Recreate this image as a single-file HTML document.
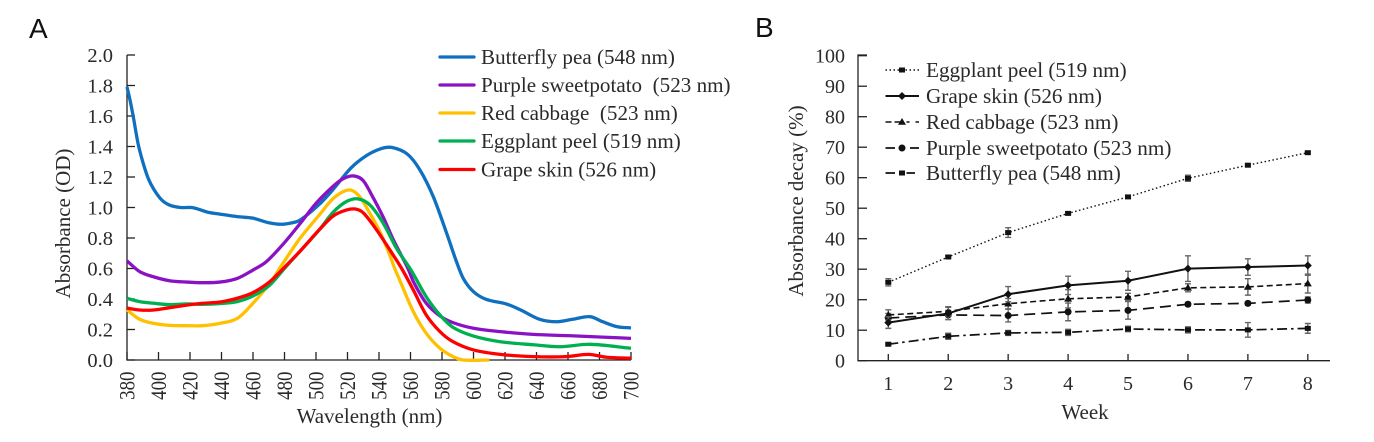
<!DOCTYPE html>
<html lang="en">
<head>
<meta charset="utf-8">
<title>Absorbance spectra and decay</title>
<style>
html,body{margin:0;padding:0;background:#fff;width:1374px;height:442px;overflow:hidden}
svg{display:block;font-family:"Liberation Serif",serif;fill:#222}
text{fill:#2a2a2a}
.panel{font-family:"Liberation Sans",sans-serif;font-size:28px;fill:#111}
</style>
</head>
<body>
<svg id="chart" width="1374" height="442" viewBox="0 0 1374 442" xmlns="http://www.w3.org/2000/svg">
<text class="panel" x="29" y="38">A</text>
<text class="panel" x="755" y="37">B</text>
<text x="0" y="0" font-size="21" text-anchor="middle" transform="translate(70,223.5) rotate(-90)">Absorbance (OD)</text>
<text x="369.5" y="423" font-size="21" text-anchor="middle">Wavelength (nm)</text>
<text x="0" y="0" font-size="21" text-anchor="middle" transform="translate(803,201) rotate(-90)">Absorbance decay (%)</text>
<text x="1085" y="419" font-size="21" text-anchor="middle">Week</text>
<g id="layer-a"></g>
<g id="layer-b"></g>
</svg>
<script>
// Panel A data
const aTicksY = ["0.0","0.2","0.4","0.6","0.8","1.0","1.2","1.4","1.6","1.8","2.0"];
const aTicksX = [380,400,420,440,460,480,500,520,540,560,580,600,620,640,660,680,700];
const butterflyNm = [380,382,384,387,390,393.5,397,402,407,414,421,425,431,440,450,460,470,478,485,490,502,511,522,532,541,548,558,566,574.5,583,589,593.5,600,608,621,630,642,653,663,674,682,691,700];
const butterflyOd = [1.79,1.70,1.595,1.42,1.30,1.19,1.12,1.05,1.016,1.0,1.0,0.99,0.97,0.955,0.94,0.93,0.90,0.89,0.90,0.918,1.02,1.12,1.257,1.34,1.385,1.394,1.35,1.246,1.07,0.83,0.65,0.535,0.448,0.398,0.367,0.328,0.267,0.251,0.267,0.284,0.251,0.219,0.21];
const purpleNm = [380,388,397,407,418,428,439,450,460,468.5,480,490,500,511,517.5,524,530,536.5,543,549,558.4,562,570,578.7,587,600,617,638,659,680,700];
const purpleOd = [0.65,0.58,0.545,0.52,0.511,0.507,0.511,0.535,0.59,0.645,0.77,0.896,1.027,1.14,1.19,1.207,1.176,1.06,0.93,0.79,0.60,0.51,0.372,0.289,0.245,0.208,0.186,0.168,0.16,0.151,0.142];
const cabbageNm = [380,388,397,407,418,428,439,450,460,470.7,479,490,502,511,520.5,527,534.3,540.6,546,550,553.3,561.8,570,578.7,587,593.5,610];
const cabbageOd = [0.328,0.267,0.24,0.227,0.225,0.225,0.24,0.273,0.372,0.503,0.634,0.80,0.95,1.06,1.115,1.08,0.96,0.84,0.71,0.60,0.52,0.317,0.175,0.077,0.022,0,0];
const eggplantNm = [380,388,397,407,418,428,439,450,460,470.7,480,490,502,511,519.5,527,534.3,542.7,551,560.3,570,578.7,587,600,617,638,655,674,700];
const eggplantOd = [0.404,0.383,0.372,0.363,0.368,0.365,0.37,0.383,0.42,0.492,0.601,0.715,0.853,0.97,1.04,1.056,1.016,0.897,0.734,0.59,0.415,0.295,0.214,0.157,0.12,0.10,0.087,0.103,0.077];
const grapeNm = [380,388,397,407,418,428,439,450,460,470.7,480,490,502,511,519.5,525,530,538.5,547,554.4,561.8,570,578.7,587,600,617,638,659,673,684.5,700];
const grapeOd = [0.34,0.328,0.328,0.343,0.36,0.372,0.38,0.405,0.442,0.514,0.608,0.715,0.853,0.945,0.984,0.99,0.965,0.853,0.72,0.60,0.459,0.295,0.186,0.12,0.066,0.037,0.022,0.022,0.037,0.018,0.012];

// Panel B data
const bWeeks = [1,2,3,4,5,6,7,8];
const bTicksY = [0,10,20,30,40,50,60,70,80,90,100];
const eggplantDecay = [25.7,34,42,48.3,53.7,59.8,64.1,68.2];
const eggplantErr = [1.2,0.4,1.6,0.4,0.4,1,0.4,0.4];
const grapeDecay = [12.5,15.5,21.8,24.7,26.2,30.2,30.7,31.2];
const grapeErr = [1.9,2,2.5,3,3.1,4.2,2.7,3.2];
const cabbageDecay = [15,16.2,18.7,20.3,20.9,23.9,24.2,25.3];
const cabbageErr = [1.7,1.5,1.7,3,1.2,1.3,2.7,3.1];
const purpleDecay = [14,15,14.8,16,16.5,18.5,18.8,19.9];
const purpleErr = [1.5,1.5,2.1,2.9,2.9,0.6,0.6,1];
const butterflyDecay = [5.4,8,9.1,9.3,10.4,10.1,10.1,10.6];
const butterflyErr = [0.4,1,0.8,1,0.9,1,2.4,1.6];

const NS = "http://www.w3.org/2000/svg";
function mk(parent, tag, attrs, txt) {
  const el = document.createElementNS(NS, tag);
  for (const k in attrs) el.setAttribute(k, attrs[k]);
  if (txt !== undefined) el.textContent = txt;
  parent.appendChild(el);
  return el;
}
function smooth(pts) {
  const n = pts.length;
  const slope = i => {
    const a = pts[Math.max(i - 1, 0)], b = pts[Math.min(i + 1, n - 1)];
    return (b[1] - a[1]) / (b[0] - a[0]);
  };
  let d = "M" + pts[0][0].toFixed(2) + " " + pts[0][1].toFixed(2);
  for (let i = 0; i < n - 1; i++) {
    const p1 = pts[i], p2 = pts[i + 1], h = (p2[0] - p1[0]) / 3;
    d += "C" + (p1[0] + h).toFixed(2) + " " + (p1[1] + slope(i) * h).toFixed(2) + " " + (p2[0] - h).toFixed(2) + " " + (p2[1] - slope(i + 1) * h).toFixed(2) + " " + p2[0].toFixed(2) + " " + p2[1].toFixed(2);
  }
  return d;
}

// ---- Panel A ----
const A = document.getElementById("layer-a");
const ax = nm => 127 + (nm - 380) * 1.575;
const ay = v => 360 - v * 152.5;
const aAxis = mk(A, "path", {d:"M127 55V360H631", fill:"none", stroke:"#222", "stroke-width":1.3});


aTicksY.forEach(t => {
  const v = parseFloat(t);
  const tick = mk(A, "line", {x1:127, x2:135, y1:ay(v), y2:ay(v), stroke:"#222", "stroke-width":1.3});
  
  
  const lab = mk(A, "text", {x:113, y:ay(v) + 7, "font-size":20.5, "text-anchor":"end"}, t);
  
  
});
aTicksX.forEach(t => {
  const tick = mk(A, "line", {x1:ax(t), x2:ax(t), y1:352, y2:360, stroke:"#222", "stroke-width":1.3});
  
  
  const lab = mk(A, "text", {x:0, y:0, "font-size":22, "text-anchor":"end", transform:"translate(" + (ax(t) + 7.5) + ",371.5) rotate(-90) scale(0.86,1)"}, t);
  
  
});
const spectra = [
  {nm:butterflyNm, od:butterflyOd, c:"#0f70c0", label:"Butterfly pea (548 nm)", ly:57, slug:"butterfly-pea"},
  {nm:purpleNm, od:purpleOd, c:"#8a12c4", label:"Purple sweetpotato  (523 nm)", ly:85, slug:"purple-sweetpotato"},
  {nm:cabbageNm, od:cabbageOd, c:"#ffc000", label:"Red cabbage  (523 nm)", ly:113, slug:"red-cabbage"},
  {nm:eggplantNm, od:eggplantOd, c:"#00b050", label:"Eggplant peel (519 nm)", ly:141, slug:"eggplant-peel"},
  {nm:grapeNm, od:grapeOd, c:"#ff0000", label:"Grape skin (526 nm)", ly:169.5, slug:"grape-skin"}
];
spectra.forEach(s => {
  const pts = s.nm.map((n, i) => [ax(n), ay(s.od[i])]);
  const line = mk(A, "path", {d:smooth(pts), fill:"none", stroke:s.c, "stroke-width":3.3, "stroke-linejoin":"round"});
  
  
});
spectra.forEach(s => {
  const sw = mk(A, "line", {x1:440, x2:474, y1:s.ly, y2:s.ly, stroke:s.c, "stroke-width":3.3, "stroke-linecap":"round"});
  
  
  const t = mk(A, "text", {x:481, y:s.ly + 7, "font-size":21.1, style:"white-space:pre"}, s.label);
  
  
});

// ---- Panel B ----
const B = document.getElementById("layer-b");
const bx = w => 888.3 + (w - 1) * 59.93;
const by = v => 360.7 - v * 3.05;
const bAxis = mk(B, "path", {d:"M867 55H858V360.7H1330", fill:"none", stroke:"#222", "stroke-width":1.3});


bTicksY.forEach(t => {
  const tick = mk(B, "line", {x1:858, x2:867, y1:by(t), y2:by(t), stroke:"#222", "stroke-width":1.3});
  
  
  const lab = mk(B, "text", {x:845, y:by(t) + 7, "font-size":20, "text-anchor":"end"}, t);
  
  
});
bWeeks.forEach(w => {
  const tick = mk(B, "line", {x1:bx(w), x2:bx(w), y1:354, y2:360.7, stroke:"#222", "stroke-width":1.3});
  
  
  const lab = mk(B, "text", {x:bx(w), y:390, "font-size":20, "text-anchor":"middle"}, w);
  
  
});
function marker(parent, kind, x, y) {
  let el;
  if (kind === "square") el = mk(parent, "rect", {x:x - 3, y:y - 2.5, width:6, height:5, fill:"#111"});
  else if (kind === "diamond") el = mk(parent, "polygon", {points:[x, y - 4, x + 4, y, x, y + 4, x - 4, y].join(" "), fill:"#111"});
  else if (kind === "triangle") el = mk(parent, "polygon", {points:[x, y - 4, x + 4, y + 2.8, x - 4, y + 2.8].join(" "), fill:"#111"});
  else el = mk(parent, "circle", {cx:x, cy:y, r:3.5, fill:"#111"});
  
  
}
const decay = [
  {v:butterflyDecay, e:butterflyErr, kind:"square", dash:"10 4 2.5 4", ldash:"9.5 11.5 8.5", w:1.7, label:"Butterfly pea (548 nm)", ly:173, slug:"butterfly-pea"},
  {v:purpleDecay, e:purpleErr, kind:"circle", dash:"11 6", ldash:"9.5 15 9.5", w:1.7, label:"Purple sweetpotato (523 nm)", ly:148, slug:"purple-sweetpotato"},
  {v:cabbageDecay, e:cabbageErr, kind:"triangle", dash:"6 3.5", ldash:"6 3 6", w:1.6, label:"Red cabbage (523 nm)", ly:122, slug:"red-cabbage"},
  {v:grapeDecay, e:grapeErr, kind:"diamond", dash:null, ldash:null, w:2, label:"Grape skin (526 nm)", ly:96, slug:"grape-skin"},
  {v:eggplantDecay, e:eggplantErr, kind:"square", dash:"1.5 2.5", ldash:"1.5 2.5", w:1.4, label:"Eggplant peel (519 nm)", ly:70, slug:"eggplant-peel"}
];
decay.forEach(s => {
  const g = mk(B, "g", {});
  
  
  s.v.forEach((v, i) => {
    const x = bx(bWeeks[i]);
    const top = by(v + s.e[i]), bot = by(v - s.e[i]);
    const err = mk(g, "path", {d:"M" + x + " " + top + "V" + bot + "M" + (x - 3) + " " + top + "h6M" + (x - 3) + " " + bot + "h6", fill:"none", stroke:"#666", "stroke-width":1.4});
    
    
  });
  const attrs = {points:s.v.map((v, i) => bx(bWeeks[i]).toFixed(2) + "," + by(v).toFixed(2)).join(" "), fill:"none", stroke:"#111", "stroke-width":s.w};
  if (s.dash) attrs["stroke-dasharray"] = s.dash;
  const line = mk(g, "polyline", attrs);
  
  
  s.v.forEach((v, i) => marker(g, s.kind, bx(bWeeks[i]), by(v)));

  const lAttrs = {x1:885.5, x2:919, y1:s.ly, y2:s.ly, stroke:"#111", "stroke-width":s.w};
  if (s.ldash) lAttrs["stroke-dasharray"] = s.ldash;
  const sw = mk(B, "line", lAttrs);
  
  
  marker(B, s.kind, 902, s.ly);
  const t = mk(B, "text", {x:926, y:s.ly + 7, "font-size":21.2}, s.label);
  
  
});
</script>
</body>
</html>
